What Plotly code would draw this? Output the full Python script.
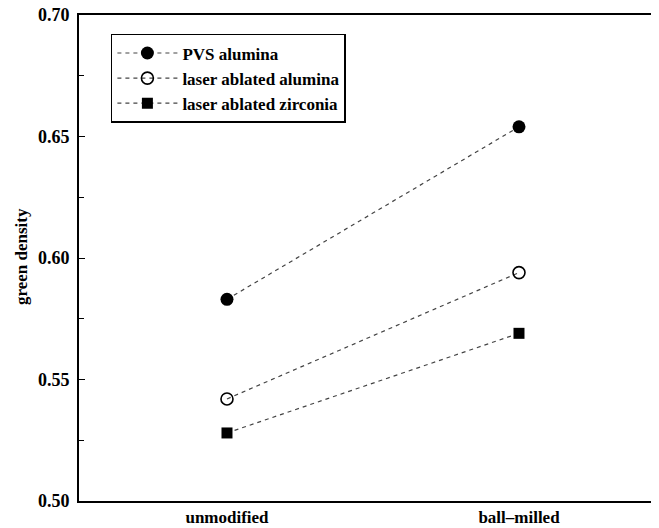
import plotly.graph_objects as go

categories = ["unmodified", "ball–milled"]
cat_pos = [1, 2]
pvs_alumina = [0.583, 0.654]
laser_alumina = [0.542, 0.594]
laser_zirconia = [0.528, 0.569]
y_ticks = [0.50, 0.55, 0.60, 0.65, 0.70]
y_tick_labels = ["0.50", "0.55", "0.60", "0.65", "0.70"]

FONT = "Liberation Serif, Times New Roman, serif"

fig = go.Figure()
line_style = dict(color="#444", width=1.2, dash="4px,4px")
fig.add_trace(go.Scatter(x=cat_pos, y=pvs_alumina, mode="lines+markers", name="PVS alumina",
                         line=line_style,
                         marker=dict(symbol="circle", size=13, color="black")))
fig.add_trace(go.Scatter(x=cat_pos, y=laser_alumina, mode="lines+markers", name="laser ablated alumina",
                         line=line_style,
                         marker=dict(symbol="circle-open", size=12, color="black", line=dict(width=1.6))))
fig.add_trace(go.Scatter(x=cat_pos, y=laser_zirconia, mode="lines+markers", name="laser ablated zirconia",
                         line=line_style,
                         marker=dict(symbol="square", size=11, color="black")))

fig.update_layout(
    width=651, height=520,
    margin=dict(l=71, r=0, t=7, b=27, autoexpand=False),
    paper_bgcolor="white", plot_bgcolor="white",
    font=dict(family=FONT, size=16, color="black", weight="bold"),
    showlegend=True,
    legend=dict(x=0.055, y=0.961, xanchor="left", yanchor="top",
                bordercolor="black", borderwidth=1.5, bgcolor="white",
                font=dict(family=FONT, size=17, color="black", weight="bold"),
                tracegroupgap=0, itemwidth=60),
    xaxis=dict(range=[0.4932, 2.4795], tickvals=cat_pos, ticktext=categories,
               showgrid=False, zeroline=False, showline=True, linecolor="black", linewidth=2,
               mirror=True, ticks="", ticklabelstandoff=0,
               tickfont=dict(family=FONT, size=17, weight="bold")),
    yaxis=dict(range=[0.5, 0.7], tickvals=y_ticks, ticktext=y_tick_labels,
               showgrid=False, zeroline=False, showline=True, linecolor="black", linewidth=2,
               ticks="inside", ticklen=6, tickwidth=1.2, tickcolor="black",
               minor=dict(ticks="inside", ticklen=5, tickwidth=1, dtick=0.025, tick0=0.5, tickcolor="black"),
               ticklabelstandoff=4, ticklabeloverflow="allow",
               tickfont=dict(family=FONT, size=18, weight="bold")),
    annotations=[dict(text="green density", xref="paper", yref="paper",
                      x=(22 - 79) / 580, y=(501 - 257) / 486, textangle=-90,
                      showarrow=False, xanchor="center", yanchor="middle",
                      font=dict(family=FONT, size=17, color="black", weight="bold"))],
)

fig.write_html("out.html")
